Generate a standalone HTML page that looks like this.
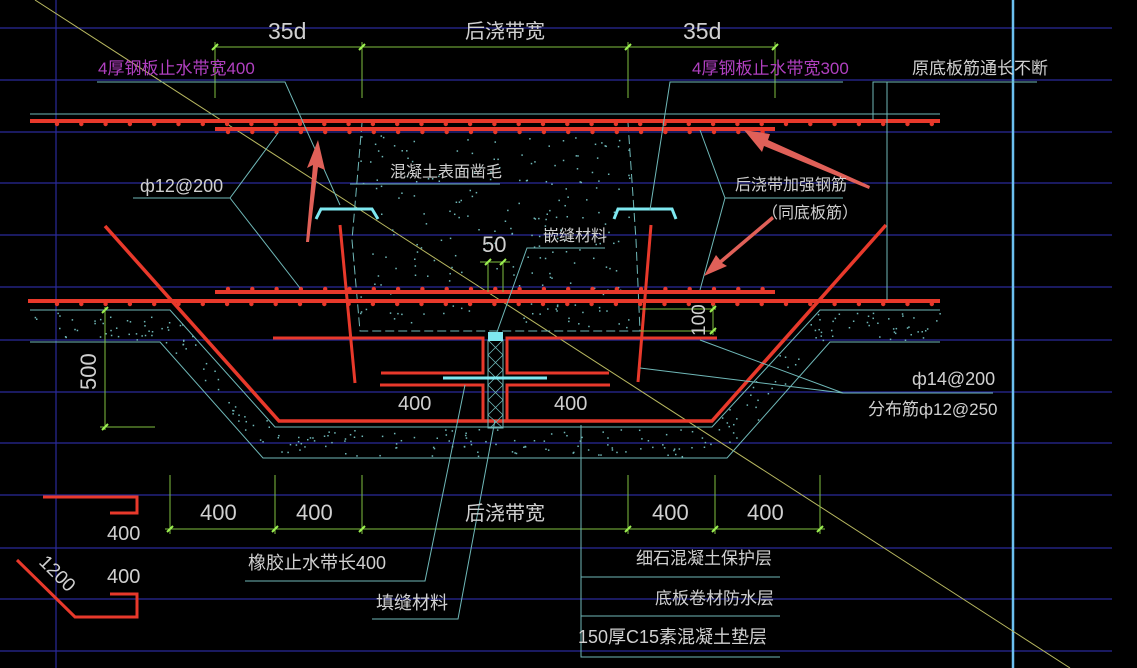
<!DOCTYPE html>
<html><head><meta charset="utf-8"><style>
html,body{margin:0;padding:0;background:#000;}
svg{display:block;}
text{font-family:"Liberation Sans","Noto Sans CJK SC",sans-serif;fill:#d0d0d0;}
</style></head><body>
<svg id="s" width="1137" height="668" viewBox="0 0 1137 668" xmlns="http://www.w3.org/2000/svg">
<rect width="1137" height="668" fill="#000"/>
<g stroke="#2a2a9a" stroke-width="1.2">
<line x1="0" y1="28" x2="1112" y2="28"/><line x1="0" y1="80" x2="1112" y2="80"/>
<line x1="0" y1="132" x2="1112" y2="132"/><line x1="0" y1="183" x2="1112" y2="183"/>
<line x1="0" y1="235" x2="1112" y2="235"/><line x1="0" y1="287" x2="1112" y2="287"/>
<line x1="0" y1="340" x2="1112" y2="340"/><line x1="0" y1="392" x2="1112" y2="392"/>
<line x1="0" y1="443" x2="1112" y2="443"/><line x1="0" y1="495" x2="1112" y2="495"/>
<line x1="0" y1="548" x2="1112" y2="548"/><line x1="0" y1="599" x2="1112" y2="599"/>
<line x1="0" y1="651" x2="1112" y2="651"/>
<line x1="56" y1="0" x2="56" y2="668"/>
</g>
<line x1="1013" y1="0" x2="1013" y2="668" stroke="#6cc0f0" stroke-width="2.5"/>
<line x1="35" y1="0" x2="1070" y2="668" stroke="#b8b860" stroke-width="1"/>
<g id="speck"></g>
<g stroke="#6fb8b8" stroke-width="1" fill="none">
<line x1="30" y1="114" x2="940" y2="114"/>
<polyline points="30,310 170,310 275,427 712,427 820,310 940,310"/>
<polyline points="30,342 160,342 263,458 727,458 830,342 940,342"/>
<path d="M362,123 L352,240 L360,331 L640,331 L636,240 L628,123" stroke-dasharray="9,4"/>
</g>
<g stroke="#e8392b" stroke-width="4" fill="none">
<line x1="30" y1="121" x2="940" y2="121"/>
<line x1="215" y1="129" x2="775" y2="129"/>
<line x1="215" y1="292" x2="775" y2="292"/>
<line x1="28" y1="301" x2="940" y2="301"/>
<polyline points="105,226 279,421 712,421 886,225" stroke-width="3.5"/>
<line x1="340" y1="225" x2="355" y2="383" stroke-width="3"/>
<line x1="651" y1="225" x2="638" y2="382" stroke-width="3"/>
<polyline points="273,338 483,338 483,373 381,373" stroke-width="3"/>
<polyline points="380,385 483,385 483,421" stroke-width="3"/>
<polyline points="717,338 507,338 507,373 609,373" stroke-width="3"/>
<polyline points="610,385 507,385 507,421" stroke-width="3"/>
<polyline points="43,497 137,497 137,513 110,513" stroke-width="3"/>
<polyline points="17,560 75,617 137,617 137,594 110,594" stroke-width="3"/>
</g>
<g id="dots" fill="#e8392b"></g>
<rect x="488" y="340" width="15" height="88" fill="none" stroke="#6fb8b8"/>
<path d="M488,340 L503,355 M503,340 L488,355 M488,355 L503,370 M503,355 L488,370 M488,370 L503,385 M503,370 L488,385 M488,385 L503,400 M503,385 L488,400 M488,400 L503,415 M503,400 L488,415 M488,415 L503,428 M503,415 L490,428" stroke="#6fb8b8" stroke-width="0.8"/>
<rect x="488" y="332" width="15" height="9" fill="#7ee8f0"/>
<line x1="443" y1="378" x2="547" y2="378" stroke="#7ee8f0" stroke-width="3"/>
<polyline points="316,219 321,209 372,209 378,219" fill="none" stroke="#7ee8f0" stroke-width="3"/>
<polyline points="614,219 618,209 672,209 676,219" fill="none" stroke="#7ee8f0" stroke-width="3"/>
<g stroke="#7fc040" stroke-width="1" fill="none">
<line x1="215" y1="47" x2="775" y2="47"/>
<line x1="215" y1="42" x2="215" y2="98"/><line x1="362" y1="42" x2="362" y2="98"/>
<line x1="628" y1="42" x2="628" y2="98"/><line x1="775" y1="42" x2="775" y2="98"/>
<line x1="165" y1="529" x2="825" y2="529"/>
<line x1="170" y1="475" x2="170" y2="534"/><line x1="275" y1="475" x2="275" y2="534"/>
<line x1="362" y1="475" x2="362" y2="534"/><line x1="628" y1="475" x2="628" y2="534"/>
<line x1="715" y1="475" x2="715" y2="534"/><line x1="820" y1="475" x2="820" y2="534"/>
<line x1="105" y1="307" x2="105" y2="430"/><line x1="100" y1="427" x2="155" y2="427"/>
<line x1="713" y1="305" x2="713" y2="335"/><line x1="640" y1="309" x2="716" y2="309"/><line x1="640" y1="331" x2="716" y2="331"/>
<line x1="488" y1="262" x2="488" y2="292"/><line x1="503" y1="262" x2="503" y2="292"/><line x1="480" y1="262" x2="510" y2="262"/>
</g>
<g stroke="#9cf050" stroke-width="2">
<path d="M212,50 l6,-6 M359,50 l6,-6 M625,50 l6,-6 M772,50 l6,-6 M167,532 l6,-6 M272,532 l6,-6 M359,532 l6,-6 M625,532 l6,-6 M712,532 l6,-6 M817,532 l6,-6 M102,313 l6,-6 M102,430 l6,-6 M710,312 l6,-6 M710,334 l6,-6 M485,265 l6,-6 M500,265 l6,-6"/>
</g>
<g stroke="#6fb8b8" stroke-width="1" fill="none">
<polyline points="97,82 285,82 340,205"/>
<polyline points="843,82 670,82 650,210"/>
<polyline points="1037,82 873,82 873,120"/>
<line x1="887" y1="82" x2="887" y2="300"/>
<polyline points="278,133 230,198 133,198"/><line x1="230" y1="198" x2="300" y2="288"/>
<line x1="350" y1="184" x2="500" y2="184"/>
<polyline points="605,248 527,248 497,332"/>
<polyline points="700,130 725,198 843,198"/><line x1="725" y1="198" x2="700" y2="290"/>
<polyline points="640,368 843,393 993,393"/><line x1="700" y1="340" x2="843" y2="393"/>
<polyline points="245,581 425,581 465,385"/>
<polyline points="372,619 458,619 495,420"/>
<polyline points="581,425 581,657 780,657"/><line x1="581" y1="577" x2="780" y2="577"/><line x1="581" y1="616" x2="780" y2="616"/>
</g>
<g fill="#e06058">
<polygon points="306,242 313,165 307,168 318,140 325,170 318,167 309,242"/>
<polygon points="870,186 768,140 770,134 744,130 762,152 764,146 869,189"/>
<polygon points="772,216 720,260 716,255 704,276 727,266 722,263 774,219"/>
</g>
<g font-size="20">
<text x="268" y="39" font-size="23">35d</text>
<text x="683" y="39" font-size="23">35d</text>
<text x="465" y="38">后浇带宽</text>
<text x="465" y="520">后浇带宽</text>
<text x="200" y="520" font-size="22">400</text><text x="296" y="520" font-size="22">400</text>
<text x="652" y="520" font-size="22">400</text><text x="747" y="520" font-size="22">400</text>
<text x="398" y="410" font-size="20">400</text><text x="554" y="410" font-size="20">400</text>
<text x="107" y="540" font-size="20">400</text><text x="107" y="583" font-size="20">400</text>
<text x="482" y="252" font-size="22">50</text>
<text transform="translate(96,390) rotate(-90)" font-size="22">500</text>
<text transform="translate(705,336) rotate(-90)" font-size="19">100</text>
<text transform="translate(38,563) rotate(45)" font-size="19">1200</text>
<text x="98" y="74" font-size="17" style="fill:#b040c0">4厚钢板止水带宽400</text>
<text x="692" y="74" font-size="17" style="fill:#b040c0">4厚钢板止水带宽300</text>
<text x="912" y="74" font-size="17">原底板筋通长不断</text>
<text x="140" y="192" font-size="18">ф12@200</text>
<text x="390" y="177" font-size="16">混凝土表面凿毛</text>
<text x="543" y="241" font-size="16">嵌缝材料</text>
<text x="735" y="190" font-size="16">后浇带加强钢筋</text>
<text x="762" y="218" font-size="16">（同底板筋）</text>
<text x="912" y="385" font-size="18">ф14@200</text>
<text x="868" y="415" font-size="17">分布筋ф12@250</text>
<text x="248" y="569" font-size="18">橡胶止水带长400</text>
<text x="376" y="609" font-size="18">填缝材料</text>
<text x="636" y="564" font-size="17">细石混凝土保护层</text>
<text x="655" y="604" font-size="17">底板卷材防水层</text>
<text x="578" y="643" font-size="18">150厚C15素混凝土垫层</text>
</g>
</svg>
<script>
(function(){
var ns="http://www.w3.org/2000/svg",d=document.getElementById("dots");
function dot(x,y){var c=document.createElementNS(ns,"circle");c.setAttribute("cx",x);c.setAttribute("cy",y);c.setAttribute("r",2.2);d.appendChild(c);}
for(var x=57;x<940;x+=24.3){dot(x,124);dot(x,304);}
for(var x=228;x<775;x+=24.3){dot(x,132);dot(x,289);}
var s=document.getElementById("speck"),seed=7;
function r(){seed=(seed*16807)%2147483647;return seed/2147483647;}
function pt(x,y){var c=document.createElementNS(ns,"rect");c.setAttribute("x",x);c.setAttribute("y",y);c.setAttribute("width",1.5);c.setAttribute("height",1.5);c.setAttribute("fill","#6fb8b8");s.appendChild(c);}
function sp(x0,x1,y0,y1,n){for(var i=0;i<n;i++)pt(x0+r()*(x1-x0),y0+r()*(y1-y0));}
sp(360,630,135,328,220);sp(30,170,312,340,35);sp(820,940,312,340,35);sp(275,712,429,456,110);
function band(ax,ay,bx,by,cx,cy,ex,ey,n){for(var i=0;i<n;i++){var t=r(),u=r();var x1=ax+(bx-ax)*t,y1=ay+(by-ay)*t,x2=cx+(ex-cx)*t,y2=cy+(ey-cy)*t;pt(x1+(x2-x1)*u,y1+(y2-y1)*u);}}
band(172,312,273,425,162,340,263,456,35);band(818,312,714,425,828,340,727,456,35);
})();
</script>
</body></html>
